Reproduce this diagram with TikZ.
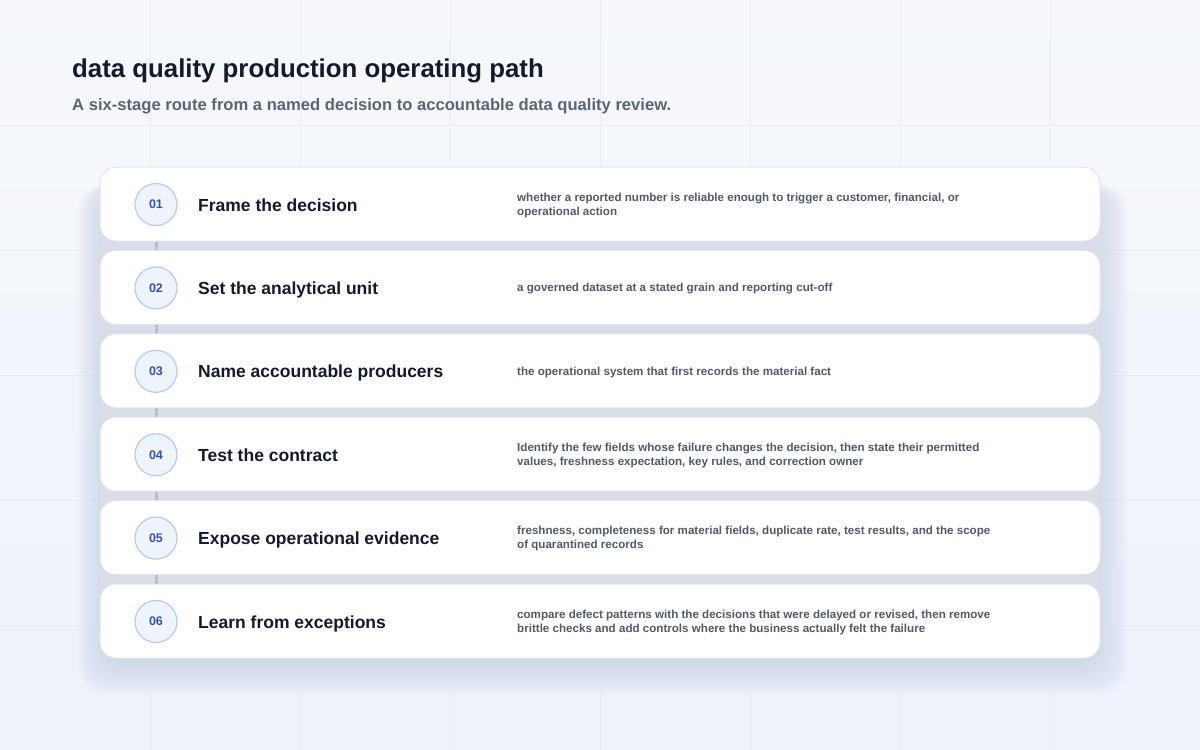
\documentclass[tikz,border=0pt]{standalone}
\usepackage{fontspec}
\setmainfont{Liberation Sans}
\pgfdeclarelayer{back}
\pgfdeclarelayer{under}
\pgfsetlayers{back,under,main}
\definecolor{bgtop}{HTML}{F6F8FB}
\definecolor{bgbot}{HTML}{EDF2FB}
\definecolor{gridcol}{HTML}{E4E8F0}
\definecolor{cardline}{HTML}{E1E5EE}
\definecolor{gapcol}{HTML}{D9DDE8}
\definecolor{shadowcol}{HTML}{8893B3}
\definecolor{dotline}{HTML}{B9CBEB}
\definecolor{dotfill}{HTML}{EEF3FC}
\definecolor{numblue}{HTML}{3556A6}
\definecolor{ink}{HTML}{131A2B}
\definecolor{subtle}{HTML}{5B6477}
\definecolor{desc}{HTML}{525A6A}
\definecolor{linkgray}{HTML}{B9BECA}
\begin{document}
\begin{tikzpicture}[x=1pt,y=-1pt,
  card/.style={draw=cardline, line width=1pt, fill=white, rounded corners=16pt,
    minimum width=1000pt, minimum height=74pt, inner sep=0pt},
  numdot/.style={circle, draw=dotline, line width=1.2pt, fill=dotfill,
    minimum size=42pt, inner sep=0pt, font=\fontsize{12.5}{14}\selectfont\bfseries, text=numblue},
  stagetitle/.style={anchor=base west, font=\fontsize{17.5}{21}\selectfont\bfseries, text=ink, inner sep=0pt},
  stagedesc/.style={anchor=west, align=left, font=\fontsize{11.6}{14}\selectfont\bfseries, text=desc, inner sep=0pt},
  link/.style={draw=linkgray, line width=3pt}]
\useasboundingbox (0,0) rectangle (1200,750);
\begin{pgfonlayer}{back}
  \shade[top color=bgtop, bottom color=bgbot] (0,0) rectangle (1200,750);
  \foreach \gx in {150,300,...,1050} \draw[gridcol, opacity=0.55, line width=1pt] (\gx,0) -- (\gx,750);
  \foreach \gy in {125,250,...,625} \draw[gridcol, opacity=0.55, line width=1pt] (0,\gy) -- (1200,\gy);
  \foreach \k in {0,...,19}
    \fill[shadowcol, opacity=0.011, rounded corners=28pt]
      (102-1.3*\k, 185) rectangle (1098+1.6*\k, 664+1.6*\k);
  \fill[gapcol] (100,190) rectangle (1100,635);
\end{pgfonlayer}

\node[anchor=base west, inner sep=0pt, text=ink, font=\fontsize{25.8}{30}\selectfont\bfseries] (head) at (72,77) {data quality production operating path};
\node[anchor=base west, inner sep=0pt, text=subtle, font=\fontsize{16.6}{20}\selectfont\bfseries] (sub) at (72,110) {A six-stage route from a named decision to accountable data quality review.};

\foreach \i/\t/\d in {
  1/{Frame the decision}/{whether a reported number is reliable enough to trigger a customer, financial, or\\operational action},
  2/{Set the analytical unit}/{a governed dataset at a stated grain and reporting cut-off},
  3/{Name accountable producers}/{the operational system that first records the material fact},
  4/{Test the contract}/{Identify the few fields whose failure changes the decision, then state their permitted\\values, freshness expectation, key rules, and correction owner},
  5/{Expose operational evidence}/{freshness, completeness for material fields, duplicate rate, test results, and the scope\\of quarantined records},
  6/{Learn from exceptions}/{compare defect patterns with the decisions that were delayed or revised, then remove\\brittle checks and add controls where the business actually felt the failure}}{
  \pgfmathsetmacro\cy{204+(\i-1)*83.4}
  \node[card] (card\i) at (600,\cy) {};
  \node[numdot] (dot\i) at (156,\cy+0.5) {0\i};
  \node[stagetitle] (title\i) at (198,\cy+7) {\t};
  \node[stagedesc] (desc\i) at (517,\cy+1.2) {\d};
}
\begin{pgfonlayer}{under}
  \foreach \i [evaluate=\i as \j using int(\i+1)] in {1,...,5}
    \draw[link] (dot\i.south) -- (dot\j.north);
\end{pgfonlayer}
\end{tikzpicture}
\end{document}
